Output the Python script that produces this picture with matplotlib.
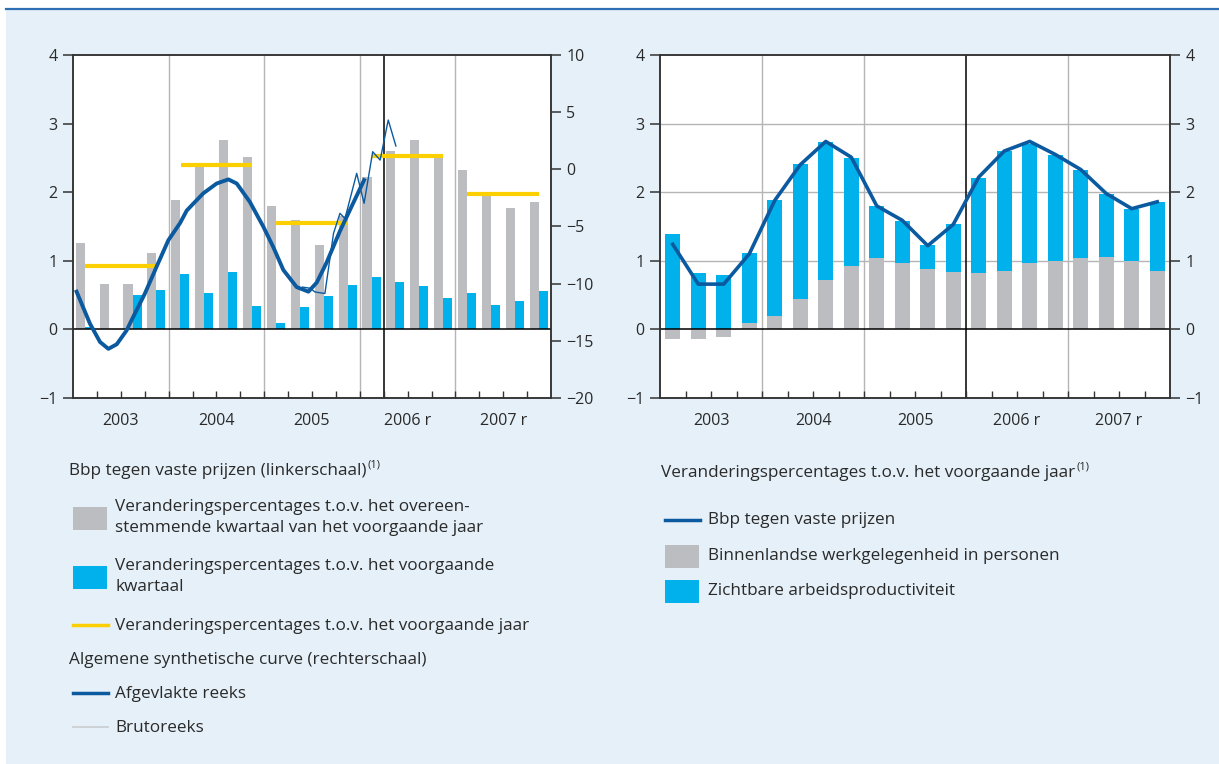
import matplotlib
matplotlib.use("Agg")
import matplotlib.pyplot as plt
import numpy as np

plt.rcParams["font.family"] = ["Open Sans", "DejaVu Sans"]

years = ["2003", "2004", "2005", "2006 r", "2007 r"]

# left chart: GDP at constant prices (left scale)
gdp_yoy_q = [1.26, 0.66, 0.66, 1.11, 1.88, 2.38, 2.76, 2.52, 1.80, 1.59,
             1.23, 1.65, 2.22, 2.60, 2.76, 2.55, 2.32, 1.97, 1.77, 1.85]
gdp_qoq = [0.03, 0.01, 0.50, 0.57, 0.81, 0.53, 0.83, 0.34, 0.09, 0.33,
           0.49, 0.65, 0.76, 0.69, 0.63, 0.46, 0.53, 0.35, 0.41, 0.56]
gdp_annual = [0.92, 2.39, 1.55, 2.53, 1.98]

# synthetic curve (right scale), x in quarters from start of 2003
smooth_x = [0.15, 0.71, 1.13, 1.48, 1.83, 2.24, 2.52, 3.0, 3.5, 3.99, 4.48, 4.76,
            5.45, 6.01, 6.5, 6.85, 7.4, 7.96, 8.38, 8.8, 9.36, 9.85, 10.2, 10.6,
            11.17, 11.6, 12.18]
smooth_y = [-10.7, -13.5, -15.1, -15.7, -15.3, -14.1, -12.9, -10.9, -8.5, -6.2, -4.7, -3.6,
            -2.1, -1.24, -0.88, -1.24, -2.85, -5.0, -6.8, -8.8, -10.3, -10.7, -9.9, -8.2,
            -5.4, -3.5, -0.94]
raw_x = [9.6, 9.92, 10.13, 10.54, 10.9, 11.17, 11.38, 11.87, 12.18, 12.54, 12.85, 13.19, 13.51]
raw_y = [-10.3, -10.4, -10.73, -10.86, -5.6, -3.85, -4.3, -0.35, -2.97, 1.54, 0.81, 4.31, 2.04]

# right chart
employment = [-0.14, -0.14, -0.11, 0.09, 0.19, 0.45, 0.72, 0.93, 1.04, 0.97,
              0.88, 0.84, 0.82, 0.85, 0.97, 1.00, 1.04, 1.06, 1.00, 0.85]
productivity = [1.39, 0.82, 0.79, 1.02, 1.70, 1.96, 2.01, 1.57, 0.76, 0.61,
                0.35, 0.70, 1.39, 1.75, 1.73, 1.54, 1.28, 0.91, 0.76, 1.01]
gdp_growth = [1.24, 0.66, 0.66, 1.10, 1.88, 2.40, 2.74, 2.51, 1.80, 1.59,
              1.22, 1.53, 2.22, 2.60, 2.74, 2.55, 2.33, 1.98, 1.76, 1.86]

BG = "#e5f0f8"
GRAY = "#bcbdc1"
CYAN = "#00b1eb"
DARKBLUE = "#0b5aa0"
YELLOW = "#fcd000"
TXT = "#2a2a2a"
GRID = "#b5b5b5"
SPINE = "#333333"
TICKFS = 11.5

fig = plt.figure(figsize=(12.19, 7.64), dpi=100)
fig.patch.set_facecolor("white")
fig.patches.append(plt.Rectangle((6 / 1219, 0), 1, 1 - 9 / 764, transform=fig.transFigure,
                                 facecolor=BG, edgecolor="none", zorder=-10))
fig.add_artist(plt.Line2D([6 / 1219, 1], [1 - 9 / 764] * 2, color="#2f70b4", lw=1.6))

nq = len(gdp_yoy_q)
q = np.arange(nq)


def style_axes(ax):
    ax.set_xlim(0, nq)
    ax.set_facecolor("white")
    for s in ax.spines.values():
        s.set_color(SPINE)
        s.set_linewidth(1.1)
    ax.xaxis.remove_overlapping_locs = False
    ax.set_xticks(np.arange(1, nq))
    ax.set_xticklabels([])
    ax.tick_params(axis="x", which="major", direction="in", length=5, width=1, color=SPINE)
    ax.set_xticks(np.arange(2, nq, 4), minor=True)
    ax.set_xticklabels(years, minor=True)
    ax.tick_params(axis="x", which="minor", length=0, pad=11, labelsize=TICKFS, labelcolor=TXT)
    ax.tick_params(axis="y", direction="out", length=7, width=1.1, color=SPINE,
                   labelsize=TICKFS, labelcolor=TXT, pad=4)


def style_twin(ax):
    ax.tick_params(axis="y", direction="out", length=7, width=1.1, color=SPINE,
                   labelsize=TICKFS, labelcolor=TXT, pad=4)
    for s in ax.spines.values():
        s.set_color(SPINE)
        s.set_linewidth(1.1)


# ---------------- left chart ----------------
ax1 = fig.add_axes([73 / 1219, 1 - 398 / 764, 478 / 1219, 343 / 764])
style_axes(ax1)
ax1.set_ylim(-1, 4)
ax1.set_yticks(range(-1, 5))
for xv in [4, 8, 12, 16]:
    ax1.axvline(xv, color=GRID, lw=1, zorder=1)
ax1.axvline(13, color="black", lw=1.1, zorder=1)
ax1.axhline(0, color="black", lw=1.1, zorder=3)
ax1.bar(q + 0.3, gdp_yoy_q, 0.38, color=GRAY, zorder=2)
ax1.bar(q + 0.68, gdp_qoq, 0.38, color=CYAN, zorder=2)
for i, v in enumerate(gdp_annual):
    ax1.plot([4 * i + 0.5, 4 * i + 3.5], [v, v], color=YELLOW, lw=3, solid_capstyle="butt", zorder=4)

ax1r = ax1.twinx()
ax1r.set_ylim(-20, 10)
ax1r.set_yticks(range(-20, 11, 5))
style_twin(ax1r)
ax1r.plot(raw_x, raw_y, color=DARKBLUE, lw=1, zorder=5)
ax1r.plot(smooth_x, smooth_y, color=DARKBLUE, lw=2.8, zorder=6)

# ---------------- right chart ----------------
ax2 = fig.add_axes([660 / 1219, 1 - 398 / 764, 510 / 1219, 343 / 764])
style_axes(ax2)
ax2.set_ylim(-1, 4)
ax2.set_yticks(range(-1, 5))
for yv in [1, 2, 3]:
    ax2.axhline(yv, color=GRID, lw=1, zorder=1)
for xv in [4, 8, 16]:
    ax2.axvline(xv, color=GRID, lw=1, zorder=1)
ax2.axvline(12, color="black", lw=1.1, zorder=1)
emp = np.array(employment)
ax2.bar(q + 0.5, emp, 0.58, color=GRAY, zorder=2)
ax2.bar(q + 0.5, productivity, 0.58, bottom=np.clip(emp, 0, None), color=CYAN, zorder=2)
ax2.axhline(0, color="black", lw=1.1, zorder=3)
ax2.plot(q + 0.5, gdp_growth, color=DARKBLUE, lw=2.6, zorder=5)

ax2r = ax2.twinx()
ax2r.set_ylim(-1, 4)
ax2r.set_yticks(range(-1, 5))
style_twin(ax2r)

# ---------------- legends ----------------
FS = 12.3
W, H = 1219, 764
renderer = fig.canvas.get_renderer()


def txt(x, y, s, **kw):
    return fig.text(x / W, 1 - y / H, s, fontsize=FS, color=TXT, va="center", ha="left", **kw)


def with_note(x, y, s):
    t = txt(x, y, s)
    bb = t.get_window_extent(renderer)
    fig.text(bb.x1 / W + 1 / W, 1 - (y - 6) / H, "(1)", fontsize=8, color=TXT, va="center", ha="left")


def patch(x, y, color):
    fig.patches.append(plt.Rectangle((x / W, 1 - (y + 11.5) / H), 34 / W, 23 / H,
                                     transform=fig.transFigure, facecolor=color, edgecolor="none"))


def line(x, y, color, lw):
    fig.add_artist(plt.Line2D([x / W, (x + 35) / W], [1 - y / H] * 2, color=color, lw=lw))


with_note(69, 471, "Bbp tegen vaste prijzen (linkerschaal)")
patch(73, 518, GRAY)
txt(115, 507, "Veranderingspercentages t.o.v. het overeen-")
txt(115, 528, "stemmende kwartaal van het voorgaande jaar")
patch(73, 577, CYAN)
txt(115, 566, "Veranderingspercentages t.o.v. het voorgaande")
txt(115, 587, "kwartaal")
line(73, 625, YELLOW, 2.5)
txt(115, 626, "Veranderingspercentages t.o.v. het voorgaande jaar")
txt(69, 660, "Algemene synthetische curve (rechterschaal)")
line(73, 693, DARKBLUE, 2.5)
txt(115, 694, "Afgevlakte reeks")
line(73, 727, "#c8ccd0", 1.2)
txt(115, 728, "Brutoreeks")

with_note(661, 473, "Veranderingspercentages t.o.v. het voorgaande jaar")
line(665, 520, DARKBLUE, 2.5)
txt(708, 520, "Bbp tegen vaste prijzen")
patch(665, 556, GRAY)
txt(708, 556, "Binnenlandse werkgelegenheid in personen")
patch(665, 591, CYAN)
txt(708, 591, "Zichtbare arbeidsproductiviteit")

fig.savefig("out.png", dpi=100, facecolor=fig.get_facecolor())
print("saved")
